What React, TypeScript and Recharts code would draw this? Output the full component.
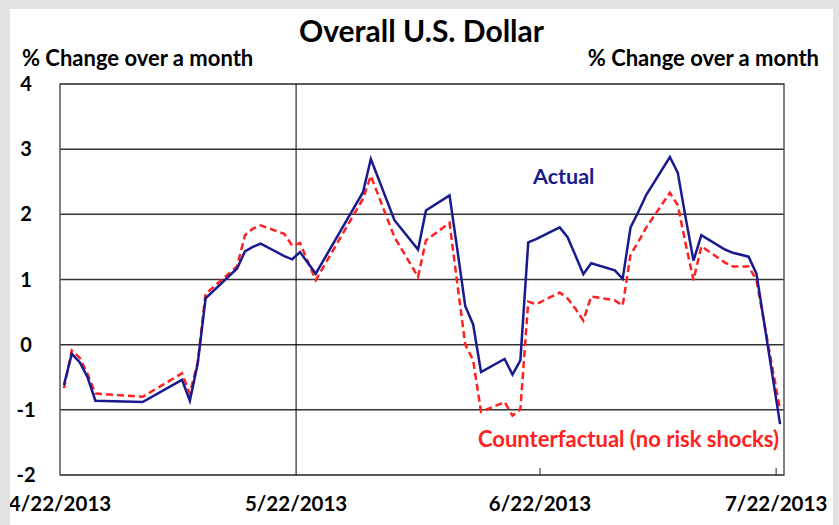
import { LineChart, Line, XAxis, YAxis, CartesianGrid, ReferenceLine, ReferenceArea } from "recharts";

// day offsets from 4/22/2013 (business days that show as corners in the lines)
const days = [0, 1, 2, 3, 4, 10, 15, 16, 17, 18, 22, 23, 24, 25, 28, 29, 30, 32, 38, 39, 42, 45, 46, 49, 50, 51, 52, 53, 56, 57, 58, 59, 60, 63, 64, 65, 66, 67, 70, 71, 72, 73, 74, 77, 78, 79, 80, 81, 84, 85, 87, 88, 91];

const actual = [-0.62, -0.14, -0.27, -0.5, -0.86, -0.88, -0.54, -0.86, -0.29, 0.71, 1.17, 1.43, 1.5, 1.55, 1.36, 1.31, 1.42, 1.09, 2.34, 2.85, 1.91, 1.46, 2.06, 2.29, 1.45, 0.59, 0.31, -0.42, -0.22, -0.46, -0.24, 1.57, 1.62, 1.8, 1.65, 1.37, 1.08, 1.25, 1.14, 1.01, 1.8, 2.04, 2.3, 2.88, 2.64, 1.95, 1.29, 1.68, 1.46, 1.41, 1.35, 1.09, -1.22];

const counterfactual = [-0.67, -0.09, -0.2, -0.45, -0.75, -0.8, -0.44, -0.75, -0.27, 0.78, 1.2, 1.68, 1.78, 1.83, 1.7, 1.52, 1.56, 0.99, 2.24, 2.59, 1.65, 1.04, 1.6, 1.87, 0.92, 0.0, -0.24, -1.03, -0.88, -1.09, -0.99, 0.66, 0.62, 0.8, 0.71, 0.55, 0.37, 0.74, 0.68, 0.6, 1.38, 1.58, 1.8, 2.33, 2.14, 1.55, 0.99, 1.51, 1.26, 1.2, 1.2, 0.99, -1.0];

// tick boundaries (day slots) and their labels
const xTicks = [-0.5, 29.5, 60.5, 90.5];
const xLabels = ["4/22/2013", "5/22/2013", "6/22/2013", "7/22/2013"];
const yTicks = [-2, -1, 0, 1, 2, 3, 4];

const data = days.map((d, i) => ({ day: d, actual: actual[i], counterfactual: counterfactual[i] }));

const FONT = "Lato, 'Liberation Sans', sans-serif";

function DateTick({ x, y, payload }: any) {
    const idx = xTicks.indexOf(payload.value);
    return (
        <g>
            {idx > 1 && <line x1={x} x2={x} y1={y} y2={y - 7} stroke="#222" strokeWidth={1} />}
            <text x={x} y={y + 36} textAnchor="middle" fontFamily={FONT} fontWeight={700} fontSize={20.5} fill="#000">
                {xLabels[idx]}
            </text>
        </g>
    );
}

function LeftTick({ x, y, payload }: any) {
    return (
        <text x={x - 34} y={y + 7} textAnchor="middle" fontFamily={FONT} fontWeight={700} fontSize={20} fill="#000">
            {payload.value}
        </text>
    );
}

function RightTick({ x, y, payload }: any) {
    return (
        <text x={x + 30} y={y + 7} textAnchor="middle" fontFamily={FONT} fontWeight={700} fontSize={20} fill="#000">
            {payload.value}
        </text>
    );
}

export default function App() {
    return (
        <div style={{ position: "absolute", left: 0, top: 0, width: 839, height: 525, background: "#e2e2e2", overflow: "hidden" }}>
            <div style={{ position: "absolute", left: 10, top: 9, width: 823, height: 516, background: "#fff", fontFamily: FONT }}>
                <div style={{ position: "absolute", left: 0, width: 823, top: 3, textAlign: "center", fontSize: 30, fontWeight: 700, lineHeight: "36px" }}>
                    Overall U.S. Dollar
                </div>
                <div style={{ position: "absolute", left: 12, top: 36, fontSize: 22, fontWeight: 700, lineHeight: "26px" }}>
                    % Change over a month
                </div>
                <div style={{ position: "absolute", right: 14, top: 36, fontSize: 22, fontWeight: 700, lineHeight: "26px" }}>
                    % Change over a month
                </div>
                <LineChart width={823} height={516} data={data} margin={{ top: 75, right: 0, bottom: 0, left: 0 }}>
                    <CartesianGrid yAxisId="left" vertical={false} stroke="#333" strokeWidth={1.5} />
                    <XAxis
                        dataKey="day"
                        type="number"
                        domain={[-0.5, 91.5]}
                        ticks={xTicks}
                        interval={0}
                        axisLine={false}
                        tickLine={false}
                        tickSize={0}
                        tickMargin={0}
                        height={50}
                        tick={<DateTick />}
                    />
                    <YAxis yAxisId="left" orientation="left" domain={[-2, 4]} ticks={yTicks} width={50}
                        axisLine={false} tickLine={false} tickSize={0} tickMargin={0} tick={<LeftTick />} />
                    <YAxis yAxisId="right" orientation="right" domain={[-2, 4]} ticks={yTicks} width={49}
                        axisLine={false} tickLine={false} tickSize={0} tickMargin={0} tick={<RightTick />} />
                    <ReferenceLine yAxisId="left" x={29.5} stroke="#000" strokeWidth={1} />
                    <ReferenceArea yAxisId="left" x1={-0.5} x2={91.5} y1={-2} y2={4} fill="none" stroke="#555" strokeWidth={1.5} />
                    <Line
                        yAxisId="left"
                        type="linear"
                        dataKey="counterfactual"
                        stroke="#ff2020"
                        strokeWidth={2.5}
                        strokeDasharray="7 4"
                        dot={false}
                        isAnimationActive={false} />
                    <Line
                        yAxisId="left"
                        type="linear"
                        dataKey="actual"
                        stroke="#1a1a8f"
                        strokeWidth={2.5}
                        dot={false}
                        isAnimationActive={false} />
                </LineChart>
                <div style={{ position: "absolute", left: 523, top: 154, fontSize: 21.5, fontWeight: 700, color: "#1a1a8f", lineHeight: "26px" }}>
                    Actual
                </div>
                <div style={{ position: "absolute", left: 468, top: 417, fontSize: 22, fontWeight: 700, color: "#ff2020", lineHeight: "26px" }}>
                    Counterfactual (no risk shocks)
                </div>
            </div>
        </div>
    );
}
